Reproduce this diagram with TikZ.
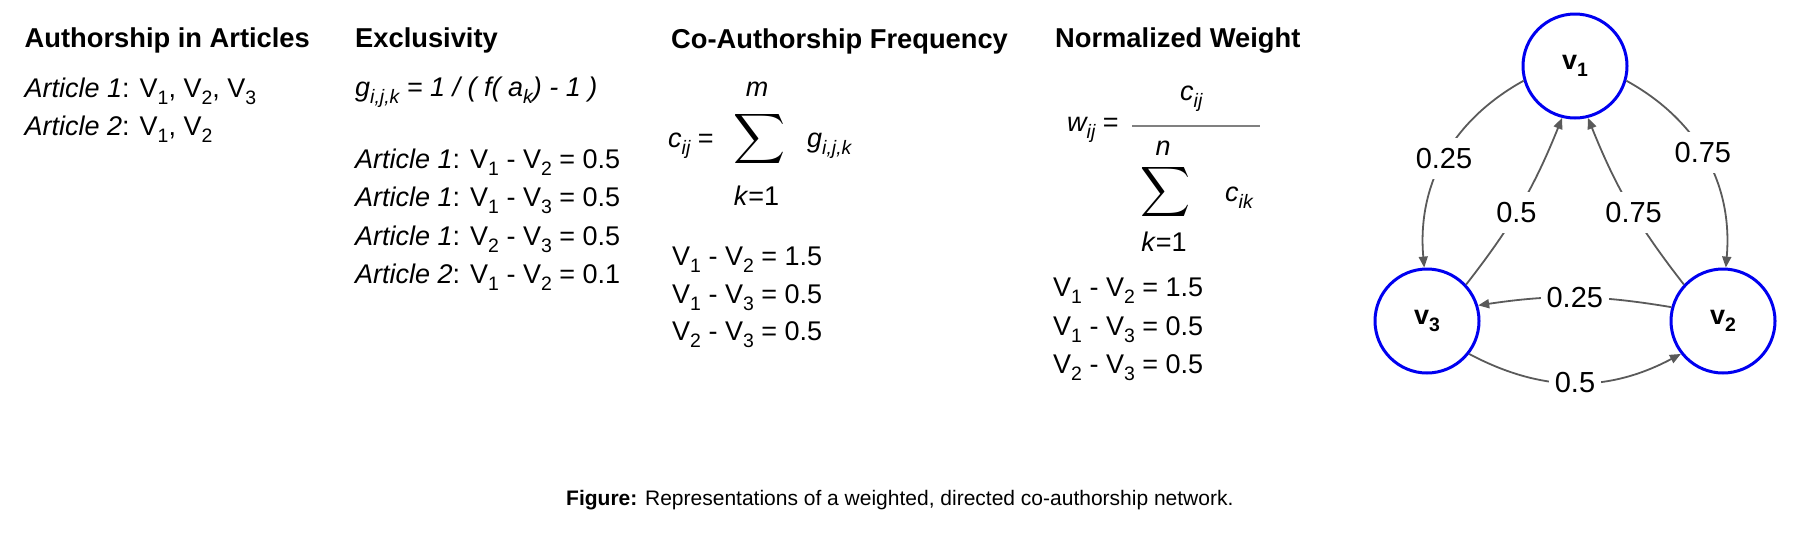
\documentclass[tikz,border=0pt]{standalone}
\usepackage{fontspec}
\setmainfont{Liberation Sans}
\usetikzlibrary{arrows.meta}
\newcommand\sbs[1]{\raisebox{-0.27em}{\scalebox{0.72}{#1}}}
\definecolor{nodeblue}{RGB}{0,0,240}
\definecolor{edgegray}{RGB}{90,90,90}
\tikzset{
  txt/.style={anchor=base west, inner sep=0pt, font=\fontsize{27}{31}\selectfont},
  ttl/.style={anchor=base west, inner sep=0pt, font=\fontsize{27.3}{31}\selectfont\bfseries},
  ctr/.style={anchor=base, inner sep=0pt, font=\fontsize{27}{31}\selectfont},
  bigsum/.style={inner sep=0pt, anchor=center},
  vnode/.style={circle, draw=nodeblue, line width=3pt, minimum size=104pt, inner sep=0pt, font=\fontsize{27}{30}\selectfont\bfseries},
  edge/.style={draw=edgegray, line width=1.8pt, -{Triangle[length=11pt,width=9pt]}},
  lab/.style={fill=white, inner xsep=6pt, inner ysep=10pt, font=\fontsize{29}{33}\selectfont},
  fracline/.style={draw=gray, line width=1.6pt}
}
\begin{document}
\begin{tikzpicture}[x=1pt,y=1pt]
\path[use as bounding box] (0,0) rectangle (1801,-544);

% Column 1
\node[ttl] (t1) at (24.5,-47.7) {Authorship in Articles};
\node[txt] (a1) at (24.5,-97.7) {\textit{Article 1}: V\sbs{1}, V\sbs{2}, V\sbs{3}};
\node[txt] (a2) at (24.5,-135) {\textit{Article 2}: V\sbs{1}, V\sbs{2}};

% Column 2
\node[ttl] (t2) at (355,-47.7) {Exclusivity};
\node[txt] (gf) at (355,-96.7) {\textit{g\sbs{i,j,k} = 1 / ( f( a\sbs{k}) - 1 )}};
\node[txt] (b1) at (355,-168.3) {\textit{Article 1}: V\sbs{1} - V\sbs{2} = 0.5};
\node[txt] (b2) at (355,-206.7) {\textit{Article 1}: V\sbs{1} - V\sbs{3} = 0.5};
\node[txt] (b3) at (355,-245) {\textit{Article 1}: V\sbs{2} - V\sbs{3} = 0.5};
\node[txt] (b4) at (355,-283.3) {\textit{Article 2}: V\sbs{1} - V\sbs{2} = 0.1};

% Column 3
\node[ttl] (t3) at (671,-48) {Co-Authorship Frequency};
\node[txt] (cij) at (668,-147) {\textit{c\sbs{ij}} =};
\node[bigsum] (s1) at (759,-139) {\resizebox*{52pt}{56pt}{$\displaystyle\sum$}};
\node[ctr] (m1) at (757,-96.7) {\textit{m}};
\node[ctr] (k1) at (756.5,-205) {\textit{k}=1};
\node[txt] (gijk) at (807,-147) {\textit{g\sbs{i,j,k}}};
\node[txt] (c1) at (672,-265) {V\sbs{1} - V\sbs{2} = 1.5};
\node[txt] (c2) at (672,-303.3) {V\sbs{1} - V\sbs{3} = 0.5};
\node[txt] (c3) at (672,-340) {V\sbs{2} - V\sbs{3} = 0.5};

% Column 4
\node[ttl] (t4) at (1055,-47.7) {Normalized Weight};
\node[txt] (wij) at (1067,-131.7) {\textit{w\sbs{ij}} =};
\coordinate (fl) at (1132,-126);
\coordinate (fr) at (1260,-126);
\draw[fracline] (fl) -- (fr);
\node[txt] (num) at (1180,-100) {\textit{c\sbs{ij}}};
\node[ctr] (n1) at (1163,-155) {\textit{n}};
\node[bigsum] (s2) at (1165,-192) {\resizebox*{50pt}{56pt}{$\displaystyle\sum$}};
\node[txt] (cik) at (1225,-201.7) {\textit{c\sbs{ik}}};
\node[ctr] (k2) at (1164,-251.7) {\textit{k}=1};
\node[txt] (d1) at (1053,-296.7) {V\sbs{1} - V\sbs{2} = 1.5};
\node[txt] (d2) at (1053,-335) {V\sbs{1} - V\sbs{3} = 0.5};
\node[txt] (d3) at (1053,-373.3) {V\sbs{2} - V\sbs{3} = 0.5};

% Graph
\node[vnode] (v1) at (1575,-66) {v\sbs{1}};
\node[vnode] (v3) at (1427,-321) {v\sbs{3}};
\node[vnode] (v2) at (1723,-321) {v\sbs{2}};

\draw[edge] (v1.196) to[bend right=33] node[lab] (l1) {0.25} (v3.93);
\draw[edge] (v1.-16) to[bend left=33] node[lab,pos=0.47] (l4) {0.75} (v2.87);
\draw[edge] (v3.43) to[bend right=8] node[lab,pos=0.45] (l2) {0.5} (v1.256);
\draw[edge] (v2.137) to[bend left=8] node[lab,pos=0.45] (l3) {0.75} (v1.284);
\draw[edge] (v2.165) to[bend right=9] node[lab] (l5) {0.25} (v3.17);
\draw[edge] (v3.-38) to[bend right=28] node[lab] (l6) {0.5} (v2.218);

% Caption
\node[anchor=base west, inner sep=0pt, font=\fontsize{21}{25}\selectfont] (cap) at (566,-505) {\textbf{Figure:} Representations of a weighted, directed co-authorship network.};
\end{tikzpicture}
\end{document}
